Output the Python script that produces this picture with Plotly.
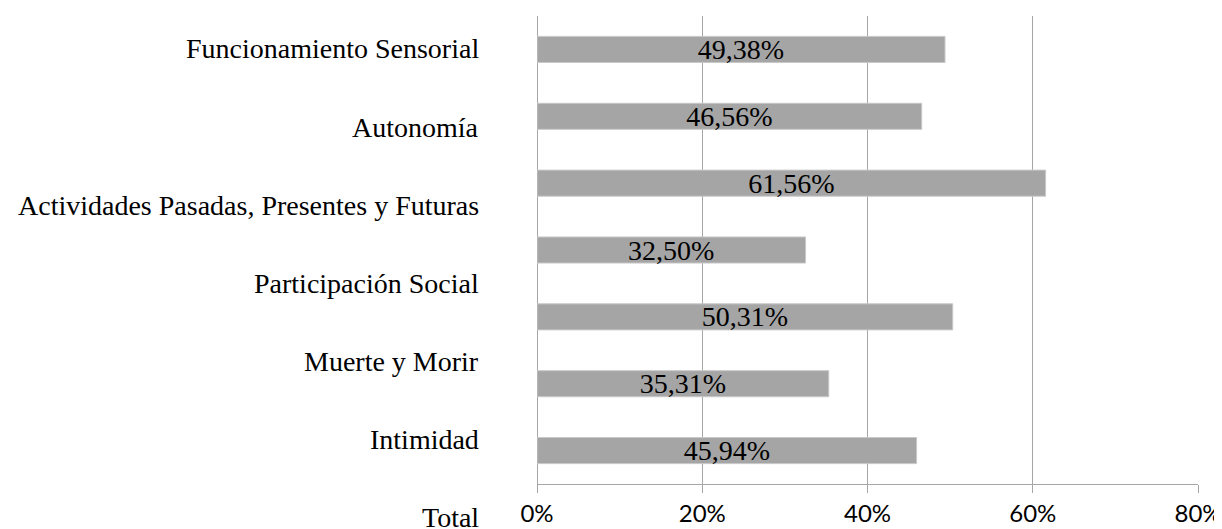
import plotly.graph_objects as go

# Data
row_labels = [
    "Funcionamiento Sensorial",
    "Autonomía",
    "Actividades Pasadas, Presentes y Futuras",
    "Participación Social",
    "Muerte y Morir",
    "Intimidad",
    "Total",
]
bar_values = [49.38, 46.56, 61.56, 32.50, 50.31, 35.31, 45.94]
bar_index = list(range(len(bar_values)))
x_ticks = [0, 20, 40, 60, 80]
x_tick_text = [f"{v}%" for v in x_ticks]

SERIF = "Liberation Serif"
SANS = "Lato"
GRID = "#A6A6A6"

# plot-area geometry used to space the label column
PLOT_H = 468.0      # height of plot area in px
LABEL_FIRST = 33.0  # px from plot top to first label centre
LABEL_STEP = 78.0   # px between label centres

fig = go.Figure()
fig.add_trace(go.Bar(
    x=bar_values,
    y=bar_index,
    orientation="h",
    marker=dict(color="#A5A5A5", line=dict(color="#C8C8C8", width=1)),
    texttemplate="%{x:.2f}%",
    textposition="inside",
    insidetextanchor="middle",
    constraintext="none",
    textfont=dict(family=SERIF, size=28, color="#000000"),
    cliponaxis=False,
    showlegend=False,
    hoverinfo="skip",
))

# Category labels (7 labels, evenly spaced in their own column)
for k, lab in enumerate(row_labels):
    fig.add_annotation(
        text=lab, xref="paper", x=0, xanchor="right", xshift=-56,
        yref="paper", y=1 - (LABEL_FIRST + k * LABEL_STEP) / PLOT_H,
        yanchor="middle", showarrow=False,
        font=dict(family=SERIF, size=28, color="#000000"),
    )

fig.update_layout(
    width=1214, height=521,
    margin=dict(l=529, r=24, t=8, b=45, autoexpand=False),
    paper_bgcolor="white", plot_bgcolor="white",
    separators=",.",
    bargap=0.61,
    xaxis=dict(
        range=[0, 80], tickvals=x_ticks, ticktext=x_tick_text,
        showgrid=True, gridcolor=GRID, gridwidth=1.3,
        zeroline=True, zerolinecolor=GRID, zerolinewidth=1.3,
        showline=True, linecolor=GRID, linewidth=1.3,
        ticks="outside", ticklen=8, tickcolor=GRID, tickwidth=1.3,
        tickfont=dict(family=SANS, size=24, color="#000000"),
        ticklabelstandoff=0, automargin=False,
    ),
    yaxis=dict(
        range=[6.5, -0.5], showticklabels=False, showgrid=False,
        zeroline=False, showline=False, ticks="", automargin=False,
    ),
)

fig.write_html("out.html")
